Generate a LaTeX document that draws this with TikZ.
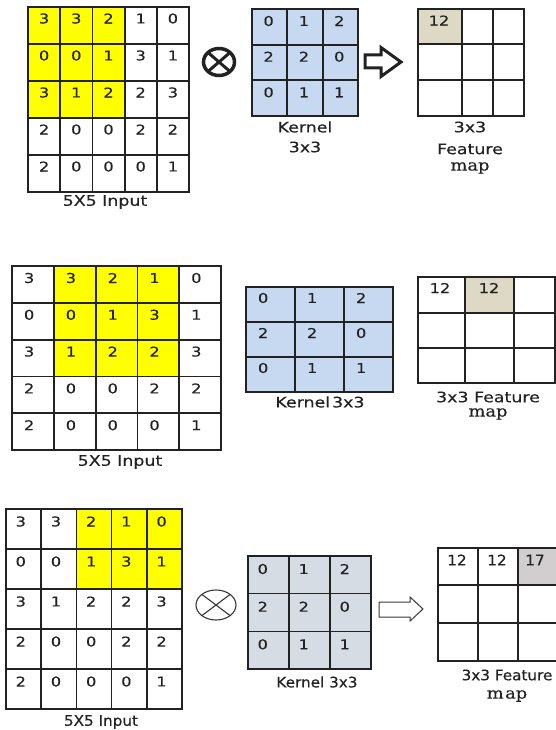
\documentclass[tikz,border=0pt]{standalone}
\usepackage{fontspec}
\setmainfont{DejaVu Sans}
\newfontfamily\wf[FakeStretch=1.2,FakeBold=0.25]{DejaVu Sans}
\newfontfamily\nf[FakeStretch=1.05,FakeBold=0.25]{DejaVu Sans}
\newfontfamily\mf[FakeStretch=1.15,FakeBold=0.25]{DejaVu Serif}
\definecolor{yel}{HTML}{FFFF00}
\definecolor{kblue}{HTML}{C6D9F0}
\definecolor{kgray}{HTML}{D6DCE4}
\definecolor{beige}{HTML}{DDD9C4}
\definecolor{fgray}{HTML}{D0CECE}
\definecolor{ink}{HTML}{222222}
\newcommand\numgrid[8]{%
  \foreach \vals [count=\ri from 0] in {#8} {
    \foreach \v [count=\ci from 0] in \vals {
      \node[num] (#1-\ri-\ci) at ({#2+(\ci+#6)*#4},{#3+\ri*#5+#7}) {\v};
    }
  }%
}
\newcommand\gridlines[7]{%
  \foreach \i in {0,...,#6} \draw[#1] ({#2+\i*#4},#3) -- ++(0,{#7*#5});
  \foreach \j in {0,...,#7} \draw[#1] (#2,{#3+\j*#5}) -- ++({#6*#4},0);
}
\begin{document}
\begin{tikzpicture}[x=1pt,y=-1pt,
  num/.style={inner sep=0pt,text=ink,font=\wf\fontsize{13.5}{13.5}\selectfont},
  numb/.style={num,font=\nf\fontsize{14.5}{14.5}\selectfont},
  lab/.style={inner sep=0pt,text=ink,font=\wf\fontsize{14.5}{14.5}\selectfont},
  labb/.style={inner sep=0pt,text=ink,font=\nf\fontsize{14.5}{14.5}\selectfont},
  maplab/.style={inner sep=0pt,text=ink,font=\mf\fontsize{15.5}{15.5}\selectfont},
  gl/.style={draw=ink,line width=1.8pt,line cap=rect},
  glb/.style={draw=ink,line width=1.5pt,line cap=rect}]
\useasboundingbox (0,0) rectangle (556,730);
\fill[white] (0,0) rectangle (556,730);
\clip (0,0) rectangle (556,730);

% ---------------- TOP PANEL ----------------
\fill[yel] (28,7) rectangle (124.6,118);
\gridlines{gl}{28}{7}{32.2}{37}{5}{5}
\numgrid{ti}{28}{7}{32.2}{37}{0.5}{11.5}{{3,3,2,1,0},{0,0,1,3,1},{3,1,2,2,3},{2,0,0,2,2},{2,0,0,0,1}}
\node[lab] (tinl) at (105,202) {5X5 Input};

\draw[ink,line width=3.5pt] (219,62) ellipse [x radius=15.5,y radius=13.5];
\draw[ink,line width=3pt] ({219-11},{62-9.5}) -- ({219+11},{62+9.5});
\draw[ink,line width=3pt] ({219-11},{62+9.5}) -- ({219+11},{62-9.5});

\fill[kblue] (252,9) rectangle (358,116);
\gridlines{gl}{252}{9}{35.33}{35.67}{3}{3}
\numgrid{tk}{252}{9}{35.33}{35.67}{0.47}{12}{{0,1,2},{2,2,0},{0,1,1}}
\node[lab] (tkl1) at (305,127) {Kernel};
\node[lab] (tkl2) at (305,147) {3x3};

\draw[ink,line width=3pt,line join=miter,fill=white] (365,55) -- (381,55) -- (381,47.5) -- (401,62) -- (381,76.5) -- (381,68) -- (365,68) -- cycle;

\fill[beige] (418,9) rectangle (462,44);
\foreach \x in {418,462,493,524} \draw[gl] (\x,9) -- (\x,116);
\foreach \y in {9,44,80,116} \draw[gl] (418,\y) -- (524,\y);
\node[num] (tf00) at (439,20.5) {12};
\node[lab] (tfl1) at (470,127) {3x3};
\node[lab] (tfl2) at (470,149) {Feature};
\node[maplab] (tfl3) at (470,168) {map};

% ---------------- MIDDLE PANEL ----------------
\fill[yel] (53.8,266) rectangle (179.2,376.4);
\gridlines{gl}{12}{266}{41.8}{36.8}{5}{5}
\numgrid{mi}{12}{266}{41.8}{36.8}{0.41}{12}{{3,3,2,1,0},{0,0,1,3,1},{3,1,2,2,3},{2,0,0,2,2},{2,0,0,0,1}}
\node[lab] (minl) at (120,462) {5X5 Input};

\fill[kblue] (246,287) rectangle (393,392);
\gridlines{gl}{246}{287}{49}{35}{3}{3}
\numgrid{mk}{246}{287}{49}{35}{0.35}{11}{{0,1,2},{2,2,0},{0,1,1}}
\node[lab] (mkl) at (320,402) {Kernel\kern2pt3x3};

\fill[beige] (465,277) rectangle (514,313);
\foreach \x in {418,465,514,555} \draw[gl] (\x,277) -- (\x,383);
\foreach \y in {277,313,348,383} \draw[gl] (418,\y) -- (555,\y);
\node[num] (mf00) at (440,288) {12};
\node[num] (mf01) at (489,288) {12};
\node[lab] (mfl1) at (488,397) {3x3 Feature};
\node[maplab] (mfl2) at (488,414) {map};

% ---------------- BOTTOM PANEL ----------------
\fill[yel] (76.4,509) rectangle (182,589);
\gridlines{glb}{6}{509}{35.2}{40}{5}{5}
\numgrid{bi}{6}{509}{35.2}{40}{0.42}{12.5}{{3,3,2,1,0},{0,0,1,3,1},{3,1,2,2,3},{2,0,0,2,2},{2,0,0,0,1}}
\node[labb] (binl) at (101,722) {5X5 Input};

\draw[ink!90,line width=1.1pt] (216,605) ellipse [x radius=20,y radius=15];
\draw[ink!90,line width=1.1pt] ({216-14.1},{605-10.6}) -- ({216+14.1},{605+10.6});
\draw[ink!90,line width=1.1pt] ({216-14.1},{605+10.6}) -- ({216+14.1},{605-10.6});

\fill[kgray] (248,556) rectangle (371,669);
\gridlines{glb}{248}{556}{41}{37.67}{3}{3}
\numgrid{bk}{248}{556}{41}{37.67}{0.36}{13}{{0,1,2},{2,2,0},{0,1,1}}
\node[labb] (bkl) at (317,682) {Kernel 3x3};

\draw[ink!90,line width=1pt,line join=miter] (379,602) -- (410,602) -- (410,597) -- (423,609) -- (410,621) -- (410,617) -- (379,617) -- cycle;

\fill[fgray] (518,548) rectangle (560,585);
\foreach \x in {438,478,518} \draw[glb] (\x,548) -- (\x,661);
\foreach \y in {548,585,623,661} \draw[glb] (438,\y) -- (560,\y);
\node[numb] (bf00) at (457,560) {12};
\node[numb] (bf01) at (497,560) {12};
\node[numb] (bf02) at (535,560) {17};
\node[labb] (bfl1) at (507,675) {3x3 Feature};
\node[maplab] (bfl2) at (507,696) {m\kern1.5pt ap};
\end{tikzpicture}
\end{document}
